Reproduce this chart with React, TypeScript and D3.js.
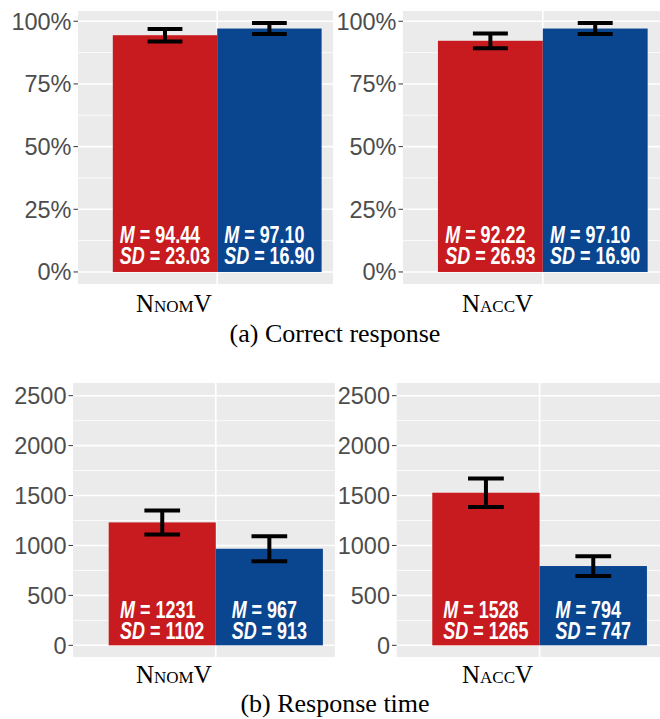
import React, { useEffect, useRef } from "react";
import * as d3 from "d3";

// ---- data ----
const conditions = ["A", "B"];
const colors = ["#C81B1F", "#0A4590"];

const correctNomMean = [94.44, 97.1];
const correctNomSD = [23.03, 16.9];
const correctNomErr = [2.5, 2.2];
const correctAccMean = [92.22, 97.1];
const correctAccSD = [26.93, 16.9];
const correctAccErr = [2.95, 2.2];

const rtNomMean = [1231, 967];
const rtNomSD = [1102, 913];
const rtNomErr = [120, 125];
const rtAccMean = [1528, 794];
const rtAccSD = [1265, 747];
const rtAccErr = [143, 99];

const pctTicks = [0, 25, 50, 75, 100];
const pctMinor = [12.5, 37.5, 62.5, 87.5];
const rtTicks = [0, 500, 1000, 1500, 2000, 2500];
const rtMinor = [250, 750, 1250, 1750, 2250];

const captions = ["(a) Correct response", "(b) Response time"];

type Panel = {
  left: number; unit: number; clipRight: number; top: number; bottom: number;
  yDomain: [number, number]; ticks: number[]; minor: number[]; fmt: (v: number) => string;
  mean: number[]; sd: number[]; err: number[]; dec: number; textOffset: number; lineGap: number;
};

const panels: Panel[] = [
  { left: 78, unit: 232, clipRight: 333, top: 11, bottom: 284, yDomain: [-4.8, 104.1], ticks: pctTicks, minor: pctMinor, fmt: (v) => v + "%", mean: correctNomMean, sd: correctNomSD, err: correctNomErr, dec: 2, textOffset: 8, lineGap: 21 },
  { left: 403, unit: 233, clipRight: 660, top: 11, bottom: 284, yDomain: [-4.8, 104.1], ticks: pctTicks, minor: pctMinor, fmt: (v) => v + "%", mean: correctAccMean, sd: correctAccSD, err: correctAccErr, dec: 2, textOffset: 8, lineGap: 21 },
  { left: 73, unit: 238, clipRight: 335, top: 383, bottom: 657, yDomain: [-117, 2627], ticks: rtTicks, minor: rtMinor, fmt: (v) => String(v), mean: rtNomMean, sd: rtNomSD, err: rtNomErr, dec: 0, textOffset: 6.6, lineGap: 20.4 },
  { left: 396.5, unit: 238.5, clipRight: 660, top: 383, bottom: 657, yDomain: [-117, 2627], ticks: rtTicks, minor: rtMinor, fmt: (v) => String(v), mean: rtAccMean, sd: rtAccSD, err: rtAccErr, dec: 0, textOffset: 6.6, lineGap: 20.4 },
];

const catLabels = [
  { x: 136, y: 312, main: "N", sc: "NOM" },
  { x: 462, y: 312, main: "N", sc: "ACC" },
  { x: 136, y: 683, main: "N", sc: "NOM" },
  { x: 462, y: 683, main: "N", sc: "ACC" },
];
const captionY = [342, 712];

const SANS = "'Liberation Sans', Arial, sans-serif";
const SERIF = "'Liberation Serif', 'Times New Roman', serif";
const NARROW_SCALE = 0.78;

export default function App() {
  const ref = useRef<SVGSVGElement>(null);
  useEffect(() => {
    const svg = d3.select(ref.current);
    svg.selectAll("*").remove();
    svg.append("rect").attr("width", 660).attr("height", 719).attr("fill", "#fff");

    panels.forEach((p, pi) => {
      const g = svg.append("g");
      const clipId = "clip" + pi;
      svg.append("defs").append("clipPath").attr("id", clipId)
        .append("rect").attr("x", p.left).attr("y", p.top).attr("width", p.clipRight - p.left).attr("height", p.bottom - p.top);
      const y = d3.scaleLinear().domain(p.yDomain).range([p.bottom, p.top]);
      const x = d3.scaleLinear().domain([0.4, 1.6]).range([p.left, p.left + 1.2 * p.unit]);
      const band = d3.scaleBand<string>().domain(conditions).range([x(0.55), x(1.45)]).padding(0);

      const inner = g.append("g").attr("clip-path", `url(#${clipId})`);
      inner.append("rect").attr("x", p.left).attr("y", p.top).attr("width", p.clipRight - p.left).attr("height", p.bottom - p.top).attr("fill", "#EBEBEB");
      p.minor.forEach((v) => {
        inner.append("line").attr("x1", p.left).attr("x2", p.clipRight).attr("y1", y(v)).attr("y2", y(v)).attr("stroke", "#fff").attr("stroke-width", 0.8);
      });
      p.ticks.forEach((v) => {
        inner.append("line").attr("x1", p.left).attr("x2", p.clipRight).attr("y1", y(v)).attr("y2", y(v)).attr("stroke", "#fff").attr("stroke-width", 1.6);
      });
      inner.append("line").attr("x1", x(1)).attr("x2", x(1)).attr("y1", p.top).attr("y2", p.bottom).attr("stroke", "#fff").attr("stroke-width", 1.6);

      conditions.forEach((c, i) => {
        const bx = band(c)!;
        const bw = band.bandwidth();
        inner.append("rect").attr("x", bx).attr("y", y(p.mean[i])).attr("width", bw).attr("height", y(0) - y(p.mean[i])).attr("fill", colors[i]);
        const cx = bx + bw / 2;
        const hw = 0.075 * p.unit;
        const top = y(p.mean[i] + p.err[i]);
        const bot = y(p.mean[i] - p.err[i]);
        const eg = inner.append("g").attr("stroke", "#000").attr("stroke-width", 4);
        eg.append("line").attr("x1", cx - hw).attr("x2", cx + hw).attr("y1", top).attr("y2", top);
        eg.append("line").attr("x1", cx - hw).attr("x2", cx + hw).attr("y1", bot).attr("y2", bot);
        eg.append("line").attr("x1", cx).attr("x2", cx).attr("y1", top).attr("y2", bot);

        const tg = inner.append("g").attr("fill", "#fff").attr("font-family", SANS).attr("font-weight", "bold").attr("font-size", 23);
        const base = y(0) - p.textOffset;
        const t1 = tg.append("text").attr("y", base - p.lineGap);
        t1.append("tspan").attr("font-style", "italic").text("M");
        t1.append("tspan").text(" = " + p.mean[i].toFixed(p.dec));
        const t2 = tg.append("text").attr("y", base);
        t2.append("tspan").attr("font-style", "italic").text("SD");
        t2.append("tspan").text(" = " + p.sd[i].toFixed(p.dec));
        const w = (t2.node() as SVGTextElement).getComputedTextLength() * NARROW_SCALE;
        tg.attr("transform", `translate(${cx - w / 2},0) scale(${NARROW_SCALE},1)`);
      });

      // y axis
      p.ticks.forEach((v) => {
        g.append("line").attr("x1", p.left - 4.5).attr("x2", p.left).attr("y1", y(v)).attr("y2", y(v)).attr("stroke", "#333").attr("stroke-width", 1);
        g.append("text").attr("x", p.left - 6.5).attr("y", y(v)).attr("dy", "0.36em").attr("text-anchor", "end")
          .attr("font-family", SANS).attr("font-size", 23.5).attr("fill", "#4D4D4D").text(p.fmt(v));
      });
    });

    catLabels.forEach((c) => {
      const t = svg.append("text").attr("x", c.x).attr("y", c.y).attr("font-family", SERIF).attr("fill", "#000");
      t.append("tspan").attr("font-size", 25).text(c.main);
      t.append("tspan").attr("font-size", 17).text(c.sc);
      t.append("tspan").attr("font-size", 25).text("V");
    });

    captions.forEach((c, i) => {
      svg.append("text").attr("x", 335).attr("y", captionY[i]).attr("text-anchor", "middle")
        .attr("font-family", SERIF).attr("font-size", 26).attr("fill", "#000").text(c);
    });
  }, []);
  return <svg ref={ref} width={660} height={719} style={{ position: "absolute", left: 0, top: 0 }} />;
}
